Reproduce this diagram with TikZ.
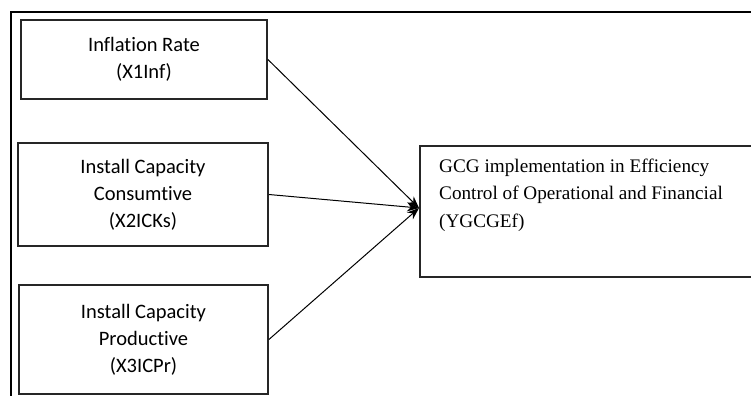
\documentclass[tikz,border=0pt]{standalone}
\usepackage{fontspec}
\setmainfont{Liberation Serif}
\newfontfamily\boxfont[Ligatures=NoCommon]{Carlito}
\usetikzlibrary{arrows.meta}

\begin{document}
\begin{tikzpicture}[x=1pt,y=-1pt,
  varbox/.style={draw=black!85,line width=1.8pt,align=center,inner sep=0pt,
    font=\boxfont\fontsize{20.5}{27}\selectfont},
  link/.style={-{Stealth[length=12pt,width=9pt]},line width=1pt}]
\useasboundingbox (0,0) rectangle (751,396);
\fill[white] (0,0) rectangle (751,396);
\clip (0,0) rectangle (751,396);
% outer frame
\draw[line width=1.1pt] (751,12) -- (11,12) -- (11,396);
% independent variables
\node[varbox,minimum width=246pt,minimum height=79pt] (inf) at (144,59.5) {Inflation Rate\\(X1Inf)};
\node[varbox,minimum width=250pt,minimum height=103pt] (ick) at (143,194.5) {Install Capacity\\Consumtive\\(X2ICKs)};
\node[varbox,minimum width=249pt,minimum height=109pt] (icp) at (143.5,339.5) {Install Capacity\\Productive\\(X3ICPr)};
% dependent variable
\node[varbox,minimum width=345pt,minimum height=131pt,anchor=north west] (gcg) at (419,145) {};
\node[anchor=north west,align=left,inner sep=0pt,font=\fontsize{19.2}{27.5}\selectfont] (gcgtext) at (439,158.5)
  {GCG implementation in Efficiency\\Control of Operational and Financial\\(YGCGEf)};
\coordinate (tip) at (419,208);
\draw[link] (inf.east) -- (tip);
\draw[link] (ick.east) -- (tip);
\draw[link] (icp.east) -- (tip);
\end{tikzpicture}
\end{document}
